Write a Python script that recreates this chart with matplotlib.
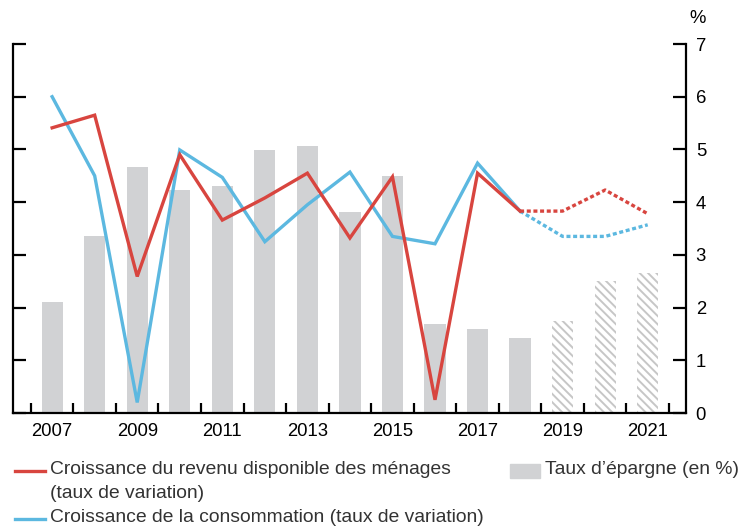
import numpy as np
import matplotlib
matplotlib.use("Agg")
import matplotlib.pyplot as plt
from matplotlib.lines import Line2D
from matplotlib.patches import Rectangle

plt.rcParams['font.family'] = ['Liberation Sans', 'DejaVu Sans']
plt.rcParams['hatch.linewidth'] = 1.4

# Données
annees = [2007, 2008, 2009, 2010, 2011, 2012, 2013, 2014, 2015, 2016, 2017, 2018, 2019, 2020, 2021]
epargne = [2.11, 3.36, 4.66, 4.23, 4.31, 4.99, 5.07, 3.81, 4.50, 1.68, 1.59, 1.42, 1.75, 2.50, 2.66]
revenu = [5.41, 5.65, 2.59, 4.90, 3.66, 4.08, 4.55, 3.32, 4.48, 0.25, 4.55, 3.83, 3.83, 4.23, 3.78]
conso = [6.00, 4.50, 0.20, 4.99, 4.47, 3.25, 3.95, 4.57, 3.35, 3.21, 4.74, 3.83, 3.35, 3.35, 3.57]
derniereObs = 2018   # après : prévisions (pointillés / hachures)
xLabels = [2007, 2009, 2011, 2013, 2015, 2017, 2019, 2021]

rouge = '#d8453f'
bleu = '#5cb8e0'
gris = '#d1d2d4'
texte = '#333333'

fig = plt.figure(figsize=(7.39, 5.29), dpi=100)
ax = fig.add_axes([13/739, 1 - 413/529, (686-13)/739, (413-44)/529])

annees = np.array(annees)
obs = annees <= derniereObs
prev = annees > derniereObs
epargne = np.array(epargne)
revenu = np.array(revenu)
conso = np.array(conso)

# barres
ax.bar(annees[obs], epargne[obs], width=0.5, color=gris, zorder=1)
ax.bar(annees[prev], epargne[prev], width=0.5, facecolor='white', edgecolor='#c6c6c6',
       hatch='\\\\\\\\', linewidth=0, zorder=1)

# lignes
idx = list(annees).index(derniereObs)
ax.plot(annees[:idx+1], conso[:idx+1], color=bleu, lw=2.4, zorder=3, solid_joinstyle='miter')
ax.plot(annees[idx:], conso[idx:], color=bleu, lw=2.4, ls=(0, (1.2, 0.8)), zorder=3)
ax.plot(annees[:idx+1], revenu[:idx+1], color=rouge, lw=2.4, zorder=4, solid_joinstyle='miter')
ax.plot(annees[idx:], revenu[idx:], color=rouge, lw=2.4, ls=(0, (1.2, 0.8)), zorder=4)

ax.set_xlim(2006.08, 2021.9)
ax.set_ylim(0, 7)

for s in ['left', 'right', 'bottom']:
    ax.spines[s].set_linewidth(1.6)
    ax.spines[s].set_color('black')
ax.spines['top'].set_visible(False)

ax.set_xticks(xLabels)
ax.set_xticklabels([str(a) for a in xLabels])
ax.set_xticks(np.arange(2006.5, 2022, 1), minor=True)
ax.tick_params(axis='x', which='major', length=0, pad=7, labelsize=13.3, labelcolor='black')
ax.tick_params(axis='x', which='minor', direction='in', length=7.5, width=1.6)

ax.set_yticks(range(0, 8))
ax.tick_params(axis='y', which='major', direction='in', length=9.5, width=1.6,
               left=True, right=True, labelleft=False, labelright=True, labelsize=13.3, pad=7)
ax.text(1.005, 1.045, '%', transform=ax.transAxes, fontsize=13.3, ha='left', va='bottom')

# légende
taille = 13.9
def ligneLegende(y, couleur):
    fig.add_artist(Line2D([15/739, 45/739], [1 - y/529, 1 - y/529], color=couleur, lw=2.4))

ligneLegende(471, rouge)
fig.text(50/739, 1 - 470/529, 'Croissance du revenu disponible des ménages', fontsize=taille,
         color=texte, va='center')
fig.text(50/739, 1 - 494/529, '(taux de variation)', fontsize=taille, color=texte, va='center')
ligneLegende(519, bleu)
fig.text(50/739, 1 - 518/529, 'Croissance de la consommation (taux de variation)', fontsize=taille,
         color=texte, va='center')
fig.add_artist(Rectangle((510/739, 1 - 478/529), 30/739, 14/529, color=gris,
                         transform=fig.transFigure))
fig.text(545/739, 1 - 470/529, 'Taux d\u2019épargne (en %)', fontsize=taille, color=texte, va='center')

fig.savefig('out.png', dpi=100)
